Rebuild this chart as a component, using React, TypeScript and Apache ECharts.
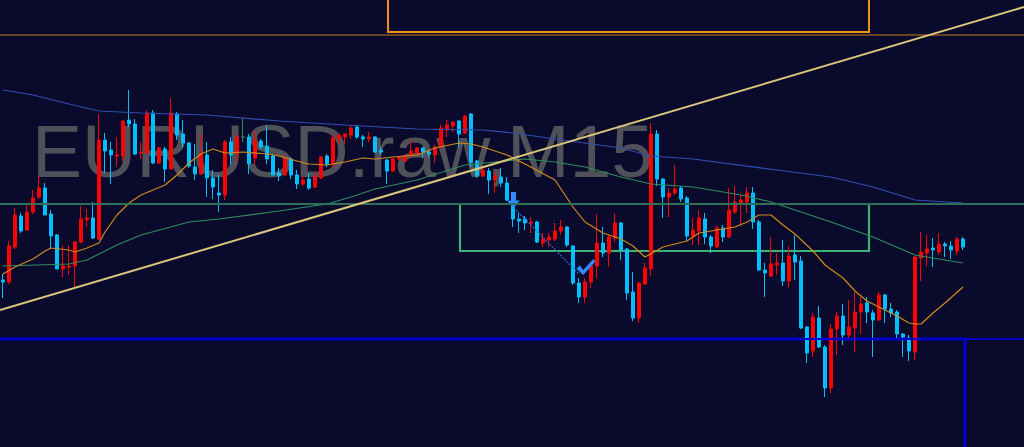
import React, { useEffect, useRef } from "react";
import * as echarts from "echarts";

const symbolLabel = "EURUSD.raw,M15";

// OHLC per M15 bar (index 0 = leftmost bar)
const opens = [
  1.08720, 1.08718, 1.08753, 1.08784, 1.08770, 1.08788, 1.08803, 1.08812, 1.08786, 1.08765,
  1.08731, 1.08733, 1.08734, 1.08758, 1.08780, 1.08782, 1.08761, 1.08860, 1.08850, 1.08844,
  1.08844, 1.08880, 1.08876, 1.08847, 1.08847, 1.08887, 1.08837, 1.08851, 1.08831, 1.08886,
  1.08866, 1.08857, 1.08833, 1.08826, 1.08845, 1.08822, 1.08807, 1.08805, 1.08858, 1.08846,
  1.08863, 1.08863, 1.08842, 1.08859, 1.08854, 1.08844, 1.08827, 1.08825, 1.08841, 1.08825,
  1.08816, 1.08821, 1.08813, 1.08822, 1.08844, 1.08836, 1.08861, 1.08863, 1.08865, 1.08873,
  1.08863, 1.08861, 1.08863, 1.08850, 1.08840, 1.08829, 1.08841, 1.08839, 1.08844, 1.08847,
  1.08852, 1.08848, 1.08845, 1.08853, 1.08870, 1.08874, 1.08879, 1.08867, 1.08886, 1.08839,
  1.08824, 1.08829, 1.08820, 1.08823, 1.08817, 1.08800, 1.08781, 1.08781, 1.08777, 1.08778,
  1.08757, 1.08760, 1.08761, 1.08769, 1.08773, 1.08754, 1.08717, 1.08703, 1.08718, 1.08734,
  1.08757, 1.08747, 1.08762, 1.08777, 1.08751, 1.08708, 1.08682, 1.08716, 1.08731, 1.08866,
  1.08821, 1.08803, 1.08807, 1.08812, 1.08802, 1.08764, 1.08769, 1.08781, 1.08763, 1.08753,
  1.08772, 1.08763, 1.08788, 1.08797, 1.08798, 1.08807, 1.08778, 1.08730, 1.08724, 1.08735,
  1.08737, 1.08719, 1.08745, 1.08739, 1.08673, 1.08649, 1.08682, 1.08653, 1.08612, 1.08671,
  1.08684, 1.08665, 1.08672, 1.08688, 1.08697, 1.08687, 1.08680, 1.08705, 1.08691, 1.08688,
  1.08666, 1.08662, 1.08648, 1.08742, 1.08747, 1.08752, 1.08748, 1.08756, 1.08754, 1.08749,
  1.08761,
];
const closes = [
  1.08718, 1.08754, 1.08785, 1.08769, 1.08788, 1.08802, 1.08812, 1.08785, 1.08764, 1.08731,
  1.08734, 1.08734, 1.08758, 1.08781, 1.08782, 1.08762, 1.08860, 1.08849, 1.08845, 1.08845,
  1.08879, 1.08876, 1.08846, 1.08848, 1.08887, 1.08837, 1.08852, 1.08831, 1.08887, 1.08865,
  1.08857, 1.08834, 1.08826, 1.08846, 1.08822, 1.08813, 1.08805, 1.08858, 1.08845, 1.08863,
  1.08863, 1.08836, 1.08860, 1.08853, 1.08841, 1.08825, 1.08824, 1.08841, 1.08825, 1.08816,
  1.08820, 1.08812, 1.08823, 1.08843, 1.08836, 1.08862, 1.08865, 1.08866, 1.08872, 1.08863,
  1.08861, 1.08863, 1.08848, 1.08848, 1.08829, 1.08841, 1.08843, 1.08844, 1.08849, 1.08852,
  1.08848, 1.08846, 1.08853, 1.08872, 1.08875, 1.08878, 1.08866, 1.08884, 1.08838, 1.08824,
  1.08830, 1.08820, 1.08824, 1.08817, 1.08800, 1.08781, 1.08779, 1.08777, 1.08778, 1.08758,
  1.08761, 1.08763, 1.08769, 1.08773, 1.08755, 1.08717, 1.08703, 1.08718, 1.08734, 1.08757,
  1.08747, 1.08763, 1.08777, 1.08750, 1.08707, 1.08682, 1.08717, 1.08732, 1.08866, 1.08821,
  1.08803, 1.08807, 1.08811, 1.08801, 1.08764, 1.08770, 1.08782, 1.08763, 1.08754, 1.08772,
  1.08763, 1.08790, 1.08798, 1.08800, 1.08807, 1.08778, 1.08730, 1.08727, 1.08736, 1.08737,
  1.08719, 1.08744, 1.08738, 1.08672, 1.08647, 1.08683, 1.08653, 1.08612, 1.08671, 1.08684,
  1.08665, 1.08673, 1.08688, 1.08696, 1.08688, 1.08680, 1.08705, 1.08691, 1.08687, 1.08666,
  1.08663, 1.08649, 1.08743, 1.08748, 1.08751, 1.08750, 1.08756, 1.08754, 1.08750, 1.08761,
  1.08753,
];
const lows = [
  1.08702, 1.08716, 1.08751, 1.08767, 1.08769, 1.08786, 1.08801, 1.08785, 1.08751, 1.08731,
  1.08723, 1.08725, 1.08713, 1.08757, 1.08773, 1.08761, 1.08760, 1.08827, 1.08816, 1.08833,
  1.08839, 1.08873, 1.08845, 1.08841, 1.08846, 1.08836, 1.08836, 1.08818, 1.08831, 1.08860,
  1.08853, 1.08832, 1.08820, 1.08825, 1.08803, 1.08801, 1.08788, 1.08800, 1.08835, 1.08838,
  1.08858, 1.08826, 1.08835, 1.08851, 1.08836, 1.08825, 1.08819, 1.08824, 1.08821, 1.08811,
  1.08814, 1.08810, 1.08812, 1.08821, 1.08833, 1.08832, 1.08857, 1.08856, 1.08861, 1.08861,
  1.08853, 1.08858, 1.08847, 1.08845, 1.08816, 1.08828, 1.08840, 1.08838, 1.08843, 1.08846,
  1.08842, 1.08843, 1.08837, 1.08852, 1.08863, 1.08868, 1.08853, 1.08866, 1.08833, 1.08822,
  1.08823, 1.08806, 1.08807, 1.08813, 1.08799, 1.08773, 1.08767, 1.08770, 1.08767, 1.08757,
  1.08753, 1.08753, 1.08759, 1.08765, 1.08753, 1.08715, 1.08697, 1.08697, 1.08712, 1.08722,
  1.08743, 1.08733, 1.08758, 1.08740, 1.08700, 1.08679, 1.08677, 1.08715, 1.08724, 1.08814,
  1.08782, 1.08783, 1.08805, 1.08798, 1.08759, 1.08755, 1.08755, 1.08756, 1.08747, 1.08752,
  1.08758, 1.08762, 1.08786, 1.08774, 1.08787, 1.08771, 1.08729, 1.08703, 1.08723, 1.08725,
  1.08714, 1.08712, 1.08720, 1.08671, 1.08637, 1.08643, 1.08652, 1.08603, 1.08607, 1.08645,
  1.08655, 1.08660, 1.08648, 1.08666, 1.08677, 1.08643, 1.08679, 1.08677, 1.08683, 1.08660,
  1.08643, 1.08639, 1.08640, 1.08719, 1.08734, 1.08733, 1.08745, 1.08743, 1.08741, 1.08745,
  1.08750,
];
const highs = [
  1.08726, 1.08759, 1.08792, 1.08787, 1.08796, 1.08810, 1.08824, 1.08817, 1.08790, 1.08766,
  1.08755, 1.08755, 1.08759, 1.08794, 1.08791, 1.08798, 1.08886, 1.08867, 1.08858, 1.08863,
  1.08880, 1.08910, 1.08881, 1.08858, 1.08890, 1.08890, 1.08853, 1.08853, 1.08902, 1.08888,
  1.08880, 1.08858, 1.08856, 1.08866, 1.08858, 1.08830, 1.08825, 1.08860, 1.08863, 1.08865,
  1.08882, 1.08866, 1.08869, 1.08861, 1.08875, 1.08846, 1.08832, 1.08845, 1.08843, 1.08830,
  1.08824, 1.08827, 1.08828, 1.08844, 1.08846, 1.08866, 1.08866, 1.08867, 1.08875, 1.08875,
  1.08865, 1.08868, 1.08864, 1.08853, 1.08841, 1.08842, 1.08844, 1.08845, 1.08860, 1.08853,
  1.08853, 1.08849, 1.08855, 1.08875, 1.08880, 1.08879, 1.08880, 1.08885, 1.08887, 1.08840,
  1.08834, 1.08832, 1.08828, 1.08832, 1.08823, 1.08805, 1.08787, 1.08784, 1.08783, 1.08779,
  1.08767, 1.08767, 1.08777, 1.08780, 1.08774, 1.08755, 1.08722, 1.08722, 1.08737, 1.08786,
  1.08773, 1.08765, 1.08787, 1.08778, 1.08752, 1.08728, 1.08718, 1.08737, 1.08877, 1.08870,
  1.08822, 1.08812, 1.08835, 1.08814, 1.08804, 1.08782, 1.08790, 1.08787, 1.08765, 1.08774,
  1.08775, 1.08812, 1.08814, 1.08805, 1.08813, 1.08813, 1.08780, 1.08737, 1.08763, 1.08747,
  1.08760, 1.08754, 1.08765, 1.08744, 1.08674, 1.08687, 1.08694, 1.08655, 1.08676, 1.08688,
  1.08696, 1.08700, 1.08708, 1.08703, 1.08703, 1.08690, 1.08708, 1.08706, 1.08697, 1.08690,
  1.08667, 1.08665, 1.08744, 1.08768, 1.08765, 1.08762, 1.08767, 1.08758, 1.08759, 1.08763,
  1.08763,
];
const dojiBars = [40];

// Moving averages, read at bar indices: [bar, price]
const maFast = [
  [0, 1.08726], [2, 1.08733], [5, 1.08741], [7, 1.08749], [8, 1.08752], [11, 1.0875], [12, 1.08748],
  [14, 1.08752], [16, 1.08757], [17, 1.08768], [19, 1.08785], [21, 1.08797], [23, 1.08805], [25, 1.0881],
  [27, 1.08815], [29, 1.08825], [31, 1.08837], [33, 1.08846], [35, 1.08851], [37, 1.08847], [40, 1.08848],
  [44, 1.08846], [46, 1.08844], [49, 1.08839], [51, 1.08836], [54, 1.08835], [57, 1.08838], [60, 1.08842],
  [62, 1.08841], [65, 1.08843], [69, 1.08845], [72, 1.08852], [76, 1.08857], [78, 1.08856], [80, 1.08853],
  [84, 1.08845], [87, 1.08836], [92, 1.0882], [95, 1.08793], [97, 1.08778], [100, 1.08767], [103, 1.08761],
  [105, 1.08754], [107, 1.08743], [110, 1.08753], [114, 1.08759], [116, 1.08767], [122, 1.08773],
  [124, 1.08778], [126, 1.08785], [128, 1.08785], [130, 1.08775], [132, 1.08766], [135, 1.08749],
  [137, 1.08735], [140, 1.08722], [142, 1.08709], [144, 1.08699], [147, 1.0869], [149, 1.08684],
  [151, 1.08677], [152, 1.08676], [153, 1.08676], [155, 1.08687], [157, 1.08697], [160, 1.08713],
];
const maMid = [
  [0, 1.08734], [11, 1.08736], [14, 1.0874], [16, 1.08746], [19, 1.08755], [23, 1.08765], [31, 1.08778],
  [36, 1.08781], [46, 1.08789], [54, 1.08796], [58, 1.08803], [62, 1.08811], [69, 1.0882], [77, 1.08835],
  [82, 1.08838], [87, 1.08841], [92, 1.08838], [97, 1.08833], [103, 1.08823], [108, 1.08816],
  [115, 1.08813], [123, 1.08805], [128, 1.08798], [138, 1.08778], [145, 1.08763], [152, 1.08745],
  [160, 1.08737],
];
const maSlow = [
  [0, 1.0891], [5, 1.08905], [11, 1.08896], [16, 1.08889], [23, 1.08887], [34, 1.08885], [46, 1.08879],
  [57, 1.08875], [69, 1.08871], [80, 1.0887], [85, 1.08867], [92, 1.08861], [103, 1.08852],
  [108, 1.08844], [115, 1.08841], [129, 1.0883], [138, 1.08823], [145, 1.08813], [152, 1.088],
  [160, 1.08797],
];

// Drawn objects in (bar, price) space
const trendLine = [[-0.5, 1.0869], [170.17, 1.08993]];
const tradeLine = [[85.17, 1.08792], [96.0, 1.08726]];
const sellArrowAt = [85.08, 1.088];
const closeCheckAt = [97.17, 1.08733];
const orangeLevel = 1.08965;
const greenLevel = 1.08796;
const blueLevel = 1.08661;
const orangeZone = [[64.17, 1.0901], [144.33, 1.08968]];
const greenZone = [[76.17, 1.08796], [144.33, 1.08749]];
const blueZone = [[-2, 1.08661], [160.33, 1.0854]];
const barMin = -2.5;
const barMax = 170.5;

export default function App() {
  const ref = useRef<HTMLDivElement>(null);

  useEffect(() => {
    const chart = echarts.init(ref.current as HTMLDivElement, null, { renderer: "svg" });
    const candleData = opens.map((o, i) => {
      const value = [i, o, closes[i], lows[i], highs[i]];
      if (dojiBars.includes(i)) {
        return {
          value,
          itemStyle: { color: "#2e8b57", color0: "#2e8b57", borderColor: "#2e8b57", borderColor0: "#2e8b57", borderColorDoji: "#2e8b57" },
        };
      }
      return value;
    });
    const plainLine = (name: string, data: number[][], color: string, width: number, z: number, type = "solid") => ({
      name,
      type: "line",
      data,
      showSymbol: false,
      symbol: "none",
      silent: true,
      z,
      lineStyle: { color, width, type },
      emphasis: { disabled: true },
    });
    const level = (name: string, price: number, color: string, width: number) =>
      plainLine(name, [[barMin, price], [barMax, price]], color, width, 5);

    const option: any = {
      animation: false,
      backgroundColor: "#0a0a2c",
      grid: { left: -12, top: -20, width: 1038, height: 487, outerBoundsMode: "none" },
      xAxis: { type: "value", min: barMin, max: barMax, show: false },
      yAxis: { type: "value", min: 1.08533, max: 1.0902, show: false },
      graphic: [
        {
          type: "text",
          x: 32,
          y: 151,
          silent: true,
          z: 0,
          style: {
            text: symbolLabel,
            fill: "#505058",
            font: '75px "Liberation Sans", Arial, sans-serif',
            verticalAlign: "middle",
          },
        },
      ],
      series: [
        {
          name: "EURUSD",
          type: "candlestick",
          data: candleData,
          barWidth: 3.6,
          silent: true,
          z: 3,
          itemStyle: {
            color: "#ff0000",
            color0: "#00bfff",
            borderColor: "#ff0000",
            borderColor0: "#00bfff",
            borderWidth: 1,
          },
          emphasis: { disabled: true },
        },
        plainLine("MA slow", maSlow, "#2f4fb0", 1.2, 4),
        plainLine("MA mid", maMid, "#2e8c5e", 1.2, 4),
        plainLine("MA fast", maFast, "#d08a1c", 1.2, 4),
        level("orange level", orangeLevel, "#c87f16", 1.2),
        level("green level", greenLevel, "#2e6f58", 2),
        level("blue level", blueLevel, "#0000c8", 2),
        {
          ...plainLine("trend", trendLine, "#d9c67c", 2, 5),
          markArea: {
            silent: true,
            label: { show: false },
            emphasis: { disabled: true },
            data: [
              [
                { coord: orangeZone[0], itemStyle: { color: "rgba(0,0,0,0)", borderColor: "#ef950f", borderWidth: 2 } },
                { coord: orangeZone[1] },
              ],
              [
                { coord: greenZone[0], itemStyle: { color: "rgba(0,0,0,0)", borderColor: "#3cb371", borderWidth: 2.2 } },
                { coord: greenZone[1] },
              ],
              [
                { coord: blueZone[0], itemStyle: { color: "rgba(0,0,0,0)", borderColor: "#0000d8", borderWidth: 3 } },
                { coord: blueZone[1] },
              ],
            ],
          },
        },
        {
          ...plainLine("trade", tradeLine, "#2a6fd8", 1.5, 6, "dotted"),
          markPoint: {
            silent: true,
            label: { show: false },
            emphasis: { disabled: true },
            data: [
              {
                coord: sellArrowAt,
                symbol: "path://M4,0 L9,0 L9,8 L13,8 L6.5,15 L0,8 L4,8 Z",
                symbolSize: [13, 16],
                itemStyle: { color: "#2f8cff" },
              },
              {
                coord: closeCheckAt,
                symbol: "path://M0,8 L3,5 L6,9 L15,0 L17,2 L6,13 Z",
                symbolSize: [19, 16],
                itemStyle: { color: "#2f8cff" },
              },
            ],
          },
        },
      ],
    };
    chart.setOption(option);
    return () => chart.dispose();
  }, []);

  return <div ref={ref} style={{ position: "fixed", left: 0, top: 0, width: 1024, height: 447 }} />;
}
